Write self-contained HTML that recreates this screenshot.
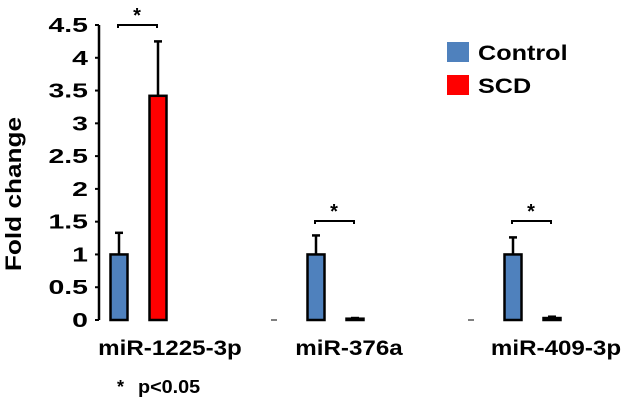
<!DOCTYPE html>
<html><head><meta charset="utf-8"><style>
body{margin:0;background:#fff}
svg{display:block;font-family:"Liberation Sans",Arial,sans-serif;font-weight:bold}
</style></head><body>
<svg id="chart" width="628" height="407" viewBox="0 0 628 407">
<g id="axis"></g>
<g id="bars"></g>
<text class="st" data-f="1.19" x="21" y="194" font-size="22" text-anchor="middle" transform="rotate(-90 21 194)">Fold change</text>
<g>
<rect x="447" y="42" width="22" height="20" fill="#4f81bd"/>
<text class="st" data-f="1.2" x="478" y="60" font-size="21">Control</text>
<rect x="447" y="75" width="22" height="20" fill="#ff0000"/>
<text class="st" data-f="1.2" x="478" y="93" font-size="21">SCD</text>
</g>
<text x="117" y="393" font-size="18">*</text>
<text class="st" data-f="1.1" x="138" y="393" font-size="18">p&lt;0.05</text>
</svg>
<script>
const categories=["miR-1225-3p","miR-376a","miR-409-3p"];
const controlValues=[1,1,1];
const controlErr=[0.33,0.29,0.26];
const scdValues=[3.42,0.02,0.03];
const scdErr=[0.83,0.01,0.02];
const yTicks=[0,0.5,1,1.5,2,2.5,3,3.5,4,4.5];
const sigFlags=[true,true,true];
const NS="http://www.w3.org/2000/svg";
const y0=320,yTop=25,yMax=4.5;
function y(v){return y0-(v/yMax)*(y0-yTop);}
function gx(i){return 119+i*197;}
function mk(t,a,p){const e=document.createElementNS(NS,t);for(const k in a)e.setAttribute(k,a[k]);p.appendChild(e);return e;}
function stretch(el,f){const w=el.getComputedTextLength();el.setAttribute('textLength',w*f);el.setAttribute('lengthAdjust','spacingAndGlyphs');}
const ax=document.getElementById('axis'),bars=document.getElementById('bars');
const line=mk('line',{x1:99,x2:99,y1:y(0),y2:y(yMax),stroke:'#000','stroke-width':2.5},ax);


yTicks.forEach(t=>{
 const tk=mk('line',{x1:95,x2:99,y1:y(t),y2:y(t),stroke:'#000','stroke-width':2},ax);
 
 
 const tl=mk('text',{x:88,y:y(t)+7,'font-size':20,'text-anchor':'end'},ax);
 tl.textContent=t;
 
 
 stretch(tl,1.42);
});
function bar(cx,v,e,col,name){
 const g=mk('g',{},bars);
 
 
 const top=y(v);
 mk('line',{x1:cx,x2:cx,y1:top,y2:y(v+e),stroke:'#000','stroke-width':2.5},g);
 mk('line',{x1:cx-4,x2:cx+4,y1:y(v+e),y2:y(v+e),stroke:'#000','stroke-width':2.5},g);
 mk('rect',{x:cx-8.5,y:top,width:17,height:Math.max(y0-top,1),fill:col,stroke:'#000','stroke-width':2.5},g);
}
categories.forEach((c,i)=>{
 const cx=gx(i);
 bar(cx,controlValues[i],controlErr[i],'#4f81bd','bar-control-'+i);
 bar(cx+39,scdValues[i],scdErr[i],'#ff0000','bar-scd-'+i);
 if(i>0){const d=mk('line',{x1:cx-45,x2:cx-39,y1:y0,y2:y0,stroke:'#000','stroke-width':1},bars);
  
  }
 const lb=mk('text',{x:[170,349,556][i],y:355,'font-size':21,'text-anchor':'middle'},bars);
 lb.textContent=c;
 
 
 stretch(lb,1.15);
 if(sigFlags[i]){
  const by=i===0?25:221;
  const br=mk('path',{d:`M${cx-1} ${by+3}V${by}H${cx+38}V${by+3}`,fill:'none',stroke:'#000','stroke-width':2},bars);
  
  
  const st=mk('text',{x:cx+18,y:by-3,'font-size':20,'text-anchor':'middle'},bars);
  st.textContent='*';
  
  
 }
});
document.querySelectorAll('text.st').forEach(el=>stretch(el,parseFloat(el.getAttribute('data-f'))));
</script>
</body></html>
